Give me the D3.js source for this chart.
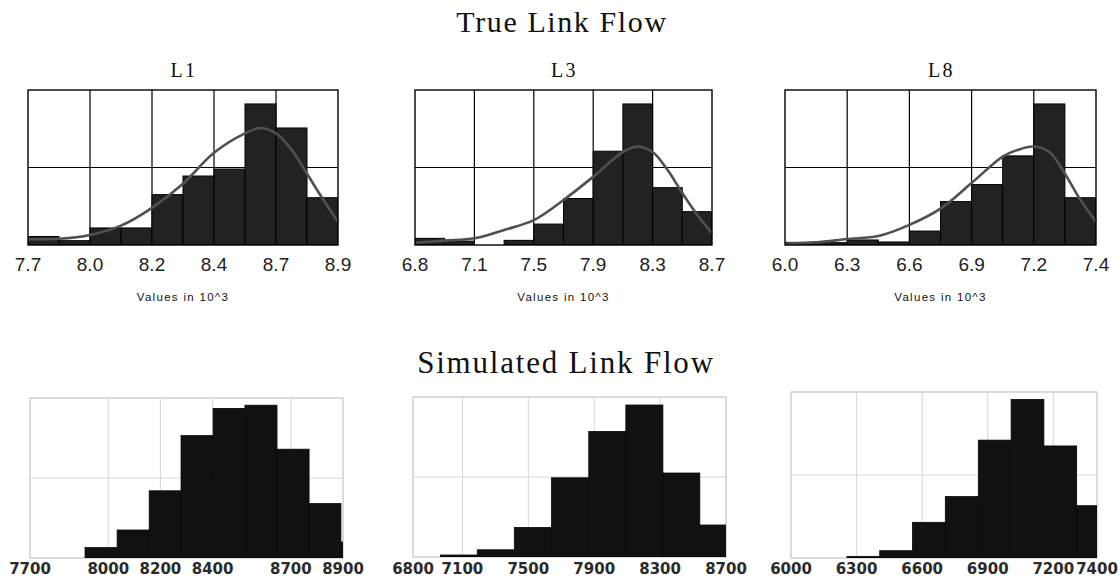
<!DOCTYPE html>
<html>
<head>
<meta charset="utf-8">
<script src="https://cdn.jsdelivr.net/npm/d3@7"></script>
<style>
  html, body { margin: 0; padding: 0; background: #fff; }
  svg { display: block; }
</style>
</head>
<body>
<svg id="chart" width="1120" height="581"></svg>
<script>
// ---------------- DATA ----------------
const titleTop = "True Link Flow";
const titleBottom = "Simulated Link Flow";
const linkNames = ["L1", "L3", "L8"];
const axisNote = "Values in 10^3";

// True link flow: 10 equal bins across each domain (relative frequency)
const trueDomainL1 = [7.7, 8.9];
const trueDomainL3 = [6.8, 8.7];
const trueDomainL8 = [6.0, 7.4];
const trueBinsL1 = [1.1, 0.56, 2.2, 2.2, 6.5, 8.9, 9.8, 18.2, 15.1, 6.1];
const trueBinsL3 = [0.86, 0.5, 0, 0.6, 2.7, 6.0, 12.1, 18.2, 7.4, 4.3];
const trueBinsL8 = [0.34, 0.3, 0.65, 0.39, 1.8, 5.6, 7.8, 11.5, 18.2, 6.1];
const trueTicksL1 = [7.7, 7.94, 8.18, 8.42, 8.66, 8.9];
const trueTicksL3 = [6.8, 7.18, 7.56, 7.94, 8.32, 8.7];
const trueTicksL8 = [6.0, 6.28, 6.56, 6.84, 7.12, 7.4];
const trueTickLabelsL1 = ["7.7", "8.0", "8.2", "8.4", "8.7", "8.9"];
const trueTickLabelsL3 = ["6.8", "7.1", "7.5", "7.9", "8.3", "8.7"];
const trueTickLabelsL8 = ["6.0", "6.3", "6.6", "6.9", "7.2", "7.4"];
// fitted density curves
const curveXL1 = [7.70, 7.76, 7.82, 7.94, 8.06, 8.18, 8.30, 8.42, 8.54, 8.60, 8.66, 8.72, 8.78, 8.84, 8.90];
const curveYL1 = [0.73, 0.76, 0.8, 1.3, 2.5, 4.8, 7.9, 11.9, 14.4, 15.1, 14.4, 12.3, 9.2, 6.0, 3.0];
const curveXL3 = [6.80, 6.99, 7.18, 7.37, 7.56, 7.75, 7.94, 8.13, 8.225, 8.32, 8.415, 8.51, 8.605, 8.70];
const curveYL3 = [0.3, 0.56, 0.86, 1.94, 3.2, 5.8, 8.8, 12.0, 12.7, 12.0, 9.7, 6.7, 3.9, 1.5];
const curveXL8 = [6.00, 6.14, 6.28, 6.42, 6.56, 6.70, 6.84, 6.98, 7.05, 7.12, 7.19, 7.26, 7.33, 7.40];
const curveYL8 = [0.17, 0.34, 0.77, 1.16, 2.6, 4.7, 8.0, 11.4, 12.3, 12.7, 12.0, 9.2, 5.8, 3.0];

// Simulated link flow: bin edges and counts
const simDomainL1 = [7700, 8900];
const simDomainL3 = [6800, 8700];
const simDomainL8 = [6000, 7400];
const simEdgesL1 = [7911, 8034, 8157, 8279, 8402, 8524, 8647, 8770, 8892, 9015];
const simCountsL1 = [13, 35, 84, 153, 187, 191, 136, 68, 20];
const simEdgesL3 = [6967, 7190, 7415, 7641, 7867, 8092, 8317, 8541, 8766];
const simCountsL3 = [2.5, 9, 37, 99, 157, 190, 105, 40];
const simEdgesL8 = [6256, 6406, 6556, 6706, 6857, 7007, 7157, 7307, 7458];
const simCountsL8 = [2, 8.8, 43, 74, 142, 191, 135, 63];
const simTicksL1 = [7700, 8000, 8200, 8400, 8700, 8900];
const simTicksL3 = [6800, 7100, 7500, 7900, 8300, 8700];
const simTicksL8 = [6000, 6300, 6600, 6900, 7200, 7400];

// ---------------- LAYOUT ----------------
const svg = d3.select("#chart");
svg.append("rect").attr("width", 1120).attr("height", 581).attr("fill", "#fff");

const topPanels = [
  {name: linkNames[0], dom: trueDomainL1, bins: trueBinsL1, ticks: trueTicksL1, labels: trueTickLabelsL1, cx: curveXL1, cy: curveYL1, x0: 28, x1: 338},
  {name: linkNames[1], dom: trueDomainL3, bins: trueBinsL3, ticks: trueTicksL3, labels: trueTickLabelsL3, cx: curveXL3, cy: curveYL3, x0: 415, x1: 712},
  {name: linkNames[2], dom: trueDomainL8, bins: trueBinsL8, ticks: trueTicksL8, labels: trueTickLabelsL8, cx: curveXL8, cy: curveYL8, x0: 785, x1: 1096}
];
const topY0 = 90, topY1 = 245;

const bottomPanels = [
  {dom: simDomainL1, edges: simEdgesL1, counts: simCountsL1, ticks: simTicksL1, x0: 30, x1: 343, y0: 398, y1: 558},
  {dom: simDomainL3, edges: simEdgesL3, counts: simCountsL3, ticks: simTicksL3, x0: 413, x1: 726, y0: 397, y1: 557},
  {dom: simDomainL8, edges: simEdgesL8, counts: simCountsL8, ticks: simTicksL8, x0: 791, x1: 1097, y0: 392, y1: 558}
];

// Titles
svg.append("text").attr("x", 562).attr("y", 32).attr("text-anchor", "middle")
  .style("font-family", "'Liberation Serif','Times New Roman',serif").style("font-size", "30px")
  .style("letter-spacing", "1.6px").attr("fill", "#111").text(titleTop);
svg.append("text").attr("x", 566).attr("y", 373).attr("text-anchor", "middle")
  .style("font-family", "'Liberation Serif','Times New Roman',serif").style("font-size", "31px")
  .style("letter-spacing", "1.8px").attr("fill", "#111").text(titleBottom);

// ---- Top panels ----
topPanels.forEach((p, pi) => {
  const g = svg.append("g");
  const x = d3.scaleLinear().domain(p.dom).range([p.x0, p.x1]);
  const y = d3.scaleLinear().domain([0, 20]).range([topY1, topY0]);
  const cid = "clipT" + pi;
  svg.append("clipPath").attr("id", cid).append("rect")
    .attr("x", p.x0).attr("y", topY0).attr("width", p.x1 - p.x0).attr("height", topY1 - topY0);

  g.append("rect").attr("x", p.x0).attr("y", topY0).attr("width", p.x1 - p.x0).attr("height", topY1 - topY0)
    .attr("fill", "#fff");
  // grid
  g.selectAll(".vg").data(p.ticks.slice(1, -1)).join("line")
    .attr("x1", d => x(d)).attr("x2", d => x(d)).attr("y1", topY0).attr("y2", topY1)
    .attr("stroke", "#000").attr("stroke-width", 1.2);
  g.append("line").attr("x1", p.x0).attr("x2", p.x1).attr("y1", y(10)).attr("y2", y(10))
    .attr("stroke", "#000").attr("stroke-width", 1.2);
  // bars
  const bw = (p.dom[1] - p.dom[0]) / p.bins.length;
  g.append("g").attr("clip-path", `url(#${cid})`).selectAll("rect").data(p.bins).join("rect")
    .attr("x", (d, i) => x(p.dom[0] + i * bw))
    .attr("width", (d, i) => x(p.dom[0] + (i + 1) * bw) - x(p.dom[0] + i * bw))
    .attr("y", d => y(d)).attr("height", d => y(0) - y(d))
    .attr("fill", "#222").attr("stroke", "#000").attr("stroke-width", 1);
  // curve
  const pts = p.cx.map((v, i) => [v, p.cy[i]]);
  g.append("path").datum(pts)
    .attr("d", d3.line().x(d => x(d[0])).y(d => y(d[1])).curve(d3.curveCatmullRom.alpha(0.5)))
    .attr("fill", "none").attr("stroke", "#505050").attr("stroke-width", 2.6);
  // frame
  g.append("rect").attr("x", p.x0).attr("y", topY0).attr("width", p.x1 - p.x0).attr("height", topY1 - topY0)
    .attr("fill", "none").attr("stroke", "#000").attr("stroke-width", 1.4);
  // tick labels
  g.selectAll(".tl").data(p.ticks).join("text")
    .attr("x", d => x(d)).attr("y", 271).attr("text-anchor", "middle")
    .style("font-family", "'Liberation Sans',Arial,sans-serif").style("font-size", "19px")
    .attr("fill", "#222").text((d, i) => p.labels[i]);
  // axis note
  g.append("text").attr("x", (p.x0 + p.x1) / 2).attr("y", 301).attr("text-anchor", "middle")
    .style("font-family", "'Liberation Sans',Arial,sans-serif").style("font-size", "11.5px")
    .style("letter-spacing", "1.3px").attr("fill", "#111").text(axisNote);
  // panel title
  g.append("text").attr("x", (p.x0 + p.x1) / 2 + 1).attr("y", 77).attr("text-anchor", "middle")
    .style("font-family", "'Liberation Serif','Times New Roman',serif").style("font-size", "20px")
    .style("letter-spacing", "2.5px").attr("fill", "#111").text(p.name);
});

// ---- Bottom panels ----
bottomPanels.forEach((p, pi) => {
  const g = svg.append("g");
  const x = d3.scaleLinear().domain(p.dom).range([p.x0, p.x1]);
  const y = d3.scaleLinear().domain([0, 200]).range([p.y1, p.y0]);
  const cid = "clipB" + pi;
  svg.append("clipPath").attr("id", cid).append("rect")
    .attr("x", p.x0).attr("y", p.y0).attr("width", p.x1 - p.x0).attr("height", p.y1 - p.y0);

  g.append("rect").attr("x", p.x0).attr("y", p.y0).attr("width", p.x1 - p.x0).attr("height", p.y1 - p.y0)
    .attr("fill", "#fff").attr("stroke", "#c4c4c4").attr("stroke-width", 1.2);
  g.selectAll(".vg").data(p.ticks.slice(1, -1)).join("line")
    .attr("x1", d => x(d)).attr("x2", d => x(d)).attr("y1", p.y0).attr("y2", p.y1)
    .attr("stroke", "#d6d6d6").attr("stroke-width", 1);
  g.append("line").attr("x1", p.x0).attr("x2", p.x1).attr("y1", y(100)).attr("y2", y(100))
    .attr("stroke", "#d6d6d6").attr("stroke-width", 1);

  g.append("g").attr("clip-path", `url(#${cid})`).selectAll("rect").data(p.counts).join("rect")
    .attr("x", (d, i) => x(p.edges[i]))
    .attr("width", (d, i) => x(p.edges[i + 1]) - x(p.edges[i]))
    .attr("y", d => y(d)).attr("height", d => y(0) - y(d))
    .attr("fill", "#111").attr("stroke", "#080808").attr("stroke-width", 0.8);

  g.selectAll(".tl").data(p.ticks).join("text")
    .attr("x", d => x(d)).attr("y", 574).attr("text-anchor", "middle")
    .style("font-family", "'DejaVu Sans',Verdana,sans-serif").style("font-size", "15px")
    .style("font-weight", "bold").attr("fill", "#2a2a2a").text(d => d);
});
</script>
</body>
</html>
